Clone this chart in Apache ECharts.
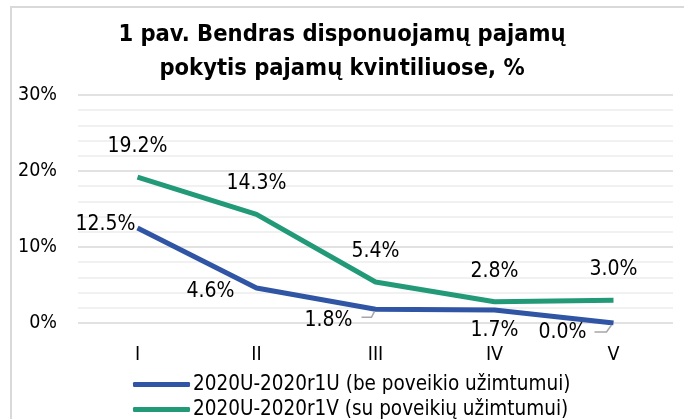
<!DOCTYPE html>
<html>
<head>
<meta charset="utf-8">
<script src="https://cdn.jsdelivr.net/npm/echarts@6/dist/echarts.min.js"></script>
<style>
  html, body { margin: 0; padding: 0; background: #fff; }
  #frame { position: absolute; left: 10px; top: 6px; width: 700px; height: 440px;
    border-left: 2px solid #d9d9d9; border-top: 2px solid #d9d9d9; }
  #main { position: absolute; left: 0; top: 0; width: 684px; height: 419px; }
</style>
</head>
<body>
<div id="frame"></div>
<div id="main"></div>
<script>
const categories = ['I', 'II', 'III', 'IV', 'V']
const withoutEmployment = [12.5, 4.6, 1.8, 1.7, 0.0]
const withEmployment = [19.2, 14.3, 5.4, 2.8, 3.0]
const seriesNames = [
  '2020U-2020r1U (be poveikio užimtumui)',
  '2020U-2020r1V (su poveikių užimtumui)'
]

const FONT = 'DejaVu Sans Condensed'
const BLUE = '#2f55a4'
const GREEN = '#229a78'

// blue label offsets
const blueShift = [[-32, -3], [-46, 4], [-47, 11], [0, 20], [-51, 10]]
// little leader hooks for labels that were pulled away
const hooks = { 2: [[-14, 8], [-4, 8], [-1, 2]], 4: [[-19, 9], [-7, 9], [-2, 2]] }

function legendAt(top, name) {
  return {
    orient: 'vertical',
    left: 133,
    top: top,
    padding: 0,
    itemWidth: 57,
    itemHeight: 5,
    icon: 'roundRect',
    textStyle: { fontFamily: FONT, fontSize: 20.5, color: '#000', padding: [0, 0, 0, -2] },
    data: [name]
  }
}

const chart = echarts.init(document.getElementById('main'))
const option = {
  animation: false,
  title: {
    text: '1 pav. Bendras disponuojamų pajamų\npokytis pajamų kvintiliuose, %',
    left: 'center',
    top: 13,
    textStyle: { fontFamily: FONT, fontSize: 23.5, fontWeight: 'bold', color: '#000', lineHeight: 34 }
  },
  legend: [legendAt(374, seriesNames[0]), legendAt(399, seriesNames[1])],
  grid: { left: 78, right: 11, top: 95, bottom: 96 },
  xAxis: {
    type: 'category',
    data: categories,
    boundaryGap: true,
    axisLine: { show: false },
    axisTick: { show: false },
    axisLabel: { fontFamily: FONT, fontSize: 19.5, color: '#000', margin: 22 }
  },
  yAxis: {
    type: 'value',
    min: 0,
    max: 30,
    interval: 10,
    axisLabel: { fontFamily: FONT, fontSize: 19.5, color: '#000', margin: 21, formatter: '{value}%' },
    splitLine: { lineStyle: { color: '#d9d9d9', width: 1.5 } },
    minorTick: { show: false, splitNumber: 5 },
    minorSplitLine: { show: true, lineStyle: { color: '#ededed', width: 1.5 } }
  },
  series: [
    {
      name: seriesNames[0],
      type: 'line',
      data: withoutEmployment,
      symbol: 'circle',
      symbolSize: 0,
      lineStyle: { color: BLUE, width: 5 },
      itemStyle: { color: BLUE },
      label: {
        show: true,
        position: 'inside',
        fontFamily: FONT,
        fontSize: 21,
        color: '#000',
        formatter: p => p.value.toFixed(1) + '%'
      },
      labelLayout: p => ({ dx: blueShift[p.dataIndex][0], dy: blueShift[p.dataIndex][1] })
    },
    {
      name: seriesNames[1],
      type: 'line',
      data: withEmployment,
      symbol: 'circle',
      symbolSize: 0,
      lineStyle: { color: GREEN, width: 5 },
      itemStyle: { color: GREEN },
      label: {
        show: true,
        position: 'top',
        distance: 20,
        fontFamily: FONT,
        fontSize: 21,
        color: '#000',
        formatter: p => p.value.toFixed(1) + '%'
      }
    }
  ]
}
chart.setOption(option)

// hooks hang off the data point, so place them after the scale is known
const graphics = Object.keys(hooks).map(k => {
  const i = +k
  const pt = chart.convertToPixel({ seriesIndex: 0 }, [i, withoutEmployment[i]])
  return {
    type: 'polyline',
    shape: { points: hooks[k].map(d => [pt[0] + d[0], pt[1] + d[1]]) },
    style: { stroke: '#a6a6a6', lineWidth: 1.5, fill: null },
    z: 10
  }
})
chart.setOption({ graphic: graphics })
</script>
</body>
</html>
